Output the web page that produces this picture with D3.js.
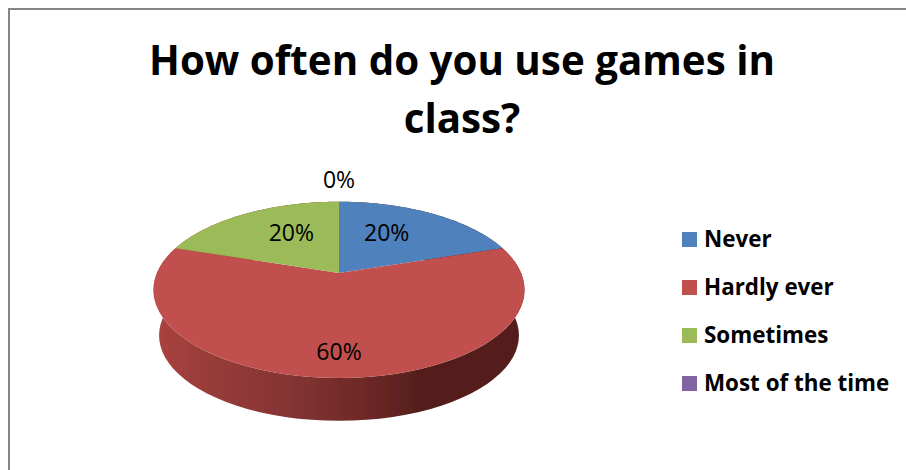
<!DOCTYPE html>
<html>
<head>
<meta charset="utf-8">
<script src="https://cdn.jsdelivr.net/npm/d3@7/dist/d3.min.js"></script>
<style>
html,body{margin:0;padding:0;background:#fff;overflow:hidden}
svg{display:block}
text{font-family:"Open Sans",Lato,sans-serif;fill:#000}
</style>
</head>
<body>
<svg id="c" width="906" height="470"></svg>
<script>
const titleLines = ["How often do you use games in", "class?"];
const categories = ["Never", "Hardly ever", "Sometimes", "Most of the time"];
const percents = [20, 60, 20, 0];
const colors = ["#4f81bd", "#c0504d", "#9bbb59", "#8064a2"];

const svg = d3.select("#c");
const defs = svg.append("defs");
defs.append("filter").attr("id","soft").attr("x","-5%").attr("y","-5%").attr("width","110%").attr("height","110%")
  .append("feGaussianBlur").attr("stdDeviation",0.55);

// frame: top and left rules only, the picture is cropped at right and bottom
svg.append("path").attr("d","M9,470V9H906").attr("fill","none").attr("stroke","#868686").attr("stroke-width",2);

// title
svg.append("g").selectAll("text").data(titleLines).join("text")
  .attr("x",462).attr("y",(d,i)=>75+i*58)
  .attr("text-anchor","middle").attr("font-size",40.3).attr("font-weight",700)
  .text(d=>d);

// perspective projection of a tilted disc
const cx = 339, apexY = 273, k = 0.191, a = 182.1, b = 84.9;
const project = (theta, r=1) => {
  const u = r*Math.sin(theta), v = -r*Math.cos(theta), w = 1 - k*v;
  return [cx + a*u/w, apexY + b*v/w];
};
const rimY0 = 288, rimScale = 0.97, lowerY0 = 333.6;
const lower = t => { const [x,y] = project(t); return [cx+(x-cx)*rimScale, lowerY0+(y-rimY0)*rimScale]; };

const slices = d3.pie().sort(null).value(d=>d)(percents);
const line = d3.line();
const samples = (s,f) => d3.range(0,61).map(i=>f(s.startAngle+(s.endAngle-s.startAngle)*i/60));

const grad = defs.append("linearGradient").attr("id","side").attr("gradientUnits","userSpaceOnUse")
  .attr("x1",155).attr("x2",525).attr("y1",0).attr("y2",0);
[[0,"#ab4340"],[0.12,"#9a3d3a"],[0.35,"#863433"],[0.58,"#6c2826"],[0.72,"#541e1c"],[1,"#541f1d"]]
  .forEach(([o,c])=>grad.append("stop").attr("offset",o).attr("stop-color",c));

const pie = svg.append("g").attr("filter","url(#soft)");
// side wall
pie.selectAll("path.side").data(slices.filter(s=>s.value>0)).join("path").attr("class","side")
  .attr("fill","url(#side)")
  .attr("d",s=>line(samples(s,project).concat(samples(s,lower).reverse()))+"Z");
// top face
pie.selectAll("path.top").data(slices).join("path").attr("class","top")
  .attr("fill",(s,i)=>colors[i])
  .attr("d",s=>line([[cx,apexY]].concat(samples(s,project)))+"Z");

// value labels
const labelRadius = [0.593, 0.79, 0.593, 1.39];
const labelShift = [-7, 0, 7, 0];
svg.append("g").selectAll("text").data(slices).join("text")
  .attr("text-anchor","middle").attr("dominant-baseline","central").attr("font-size",23)
  .attr("transform",(s,i)=>{
    const mid = (s.startAngle+s.endAngle)/2 + labelShift[i]*Math.PI/180;
    const [x,y] = project(mid,labelRadius[i]);
    return `translate(${x},${y-1})`;
  })
  .text((s,i)=>percents[i]+"%");

// legend
const ly = d3.scalePoint().domain(categories).range([239.5,383.5]);
const legend = svg.append("g").selectAll("g").data(categories).join("g")
  .attr("transform",d=>`translate(682,${ly(d)})`);
legend.append("rect").attr("x",0).attr("y",-7.5).attr("width",15).attr("height",15).attr("fill",(d,i)=>colors[i]);
legend.append("text").attr("x",22).attr("y",7.5).attr("font-size",22.4).attr("font-weight",700).text(d=>d);
</script>
</body>
</html>
